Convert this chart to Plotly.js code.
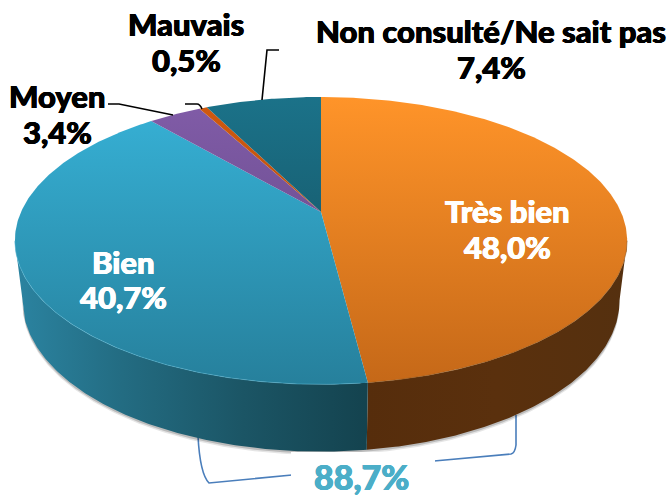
<!DOCTYPE html>
<html><head><meta charset="utf-8">
<script src="https://cdn.plot.ly/plotly-3.0.1.min.js"></script>
<style>html,body{margin:0;padding:0;background:#fff}#c{width:671px;height:497px}</style>
</head><body><div id="c"></div>
<script>
const categories = ["Très bien","Bien","Moyen","Mauvais","Non consulté/Ne sait pas"];
const values = [48.0,40.7,3.4,0.5,7.4];
const valueLabels = ["48,0%","40,7%","3,4%","0,5%","7,4%"];
const totalLabel = "88,7%";
const topColorsBack = ["#FF9429","#37B2D7","#815CA8","#D0590F","#1B7289"];
const topColorsFront = ["#C56818","#26809C","#5E4480","#A84A0C","#134A58"];

// projective view of the disc (tilted pie)
const cx=321, cy=212, A=300, B=138, k=0.1994;
function topPt(t){const u=Math.sin(t),v=Math.cos(t),w=1+k*v;return [cx+A*u/w, cy-B*v/w];}
function botPt(t){const p=topPt(t);return [cx+(p[0]-cx)*0.975, 300+(p[1]-240)*1.05];}
function arc(fn,a,b){const n=Math.max(2,Math.ceil(Math.abs(b-a)/0.01)),o=[];for(let i=0;i<=n;i++)o.push(fn(a+(b-a)*i/n));return o;}
const rad=d=>d*Math.PI/180;
const tR=rad(101.5), tL=rad(258.5);
const total=values.reduce((a,b)=>a+b,0);
let cum=0;const spans=values.map(v=>{const s=[cum/total*2*Math.PI,(cum+v)/total*2*Math.PI];cum+=v;return s;});
const traces=[];
function poly(pts,extra){traces.push(Object.assign({type:'scatter',mode:'lines',x:pts.map(p=>p[0]),y:pts.map(p=>p[1]),fill:'toself',line:{width:0},hoverinfo:'skip',showlegend:false},extra));}
// soft shadow below the wall
[[3.5,'rgba(0,0,0,0.10)'],[2,'rgba(0,0,0,0.18)']].forEach(([d,c])=>{
  const pts=arc(botPt,tR,tL).map(p=>[p[0],p[1]+d]).concat(arc(botPt,tL,tR).map(p=>[p[0],p[1]-6]));
  poly(pts,{fillcolor:c});
});
// side walls
const wall=(a,b,scale,x0,x1)=>poly(arc(topPt,a,b).concat(arc(botPt,b,a)),{fillcolor:'#000',fillgradient:{type:'horizontal',start:x0,stop:x1,colorscale:scale}});
wall(tR,spans[0][1],[[0,'#562D0C'],[0.5,'#5A300D'],[1,'#55300F']],365,626);
wall(spans[0][1],tL,[[0,'#14434F'],[0.35,'#1B5565'],[0.7,'#236C82'],[1,'#2B83A0']],365,18);
// top slices
spans.forEach((s,i)=>{
  const pts=[[cx,cy]].concat(arc(topPt,s[0],s[1])).concat([[cx,cy]]);
  poly(pts,{fillcolor:topColorsBack[i],fillgradient:{type:'vertical',start:97,stop:384,colorscale:[[0,topColorsBack[i]],[1,topColorsFront[i]]]}});
});
// bevel highlight on the front rim
const rim=(a,b,c)=>{const p=arc(topPt,a,b);traces.push({type:'scatter',mode:'lines',x:p.map(q=>q[0]),y:p.map(q=>q[1]),line:{width:1,color:c},hoverinfo:'skip',showlegend:false});};
rim(spans[0][1]+0.02,tL,'rgba(90,185,215,0.5)');
rim(tR,spans[0][1],'rgba(140,85,30,0.5)');

const font=(size,color)=>({family:'Lato, "Open Sans", sans-serif',size:size,color:color,weight:900,
  shadow:'0.45px 0 0 '+color+', -0.45px 0 0 '+color+', 0 0.3px 0 '+color});
const ann=(x,y,text,size,color)=>({x:x,y:y,xref:'x',yref:'y',text:text,showarrow:false,font:font(size,color),align:'center',xanchor:'center',yanchor:'middle'});
const S=31;
const annotations=[
  ann(507,211,categories[0],S,'#fff'), ann(507,247,valueLabels[0],S,'#fff'),
  ann(123,262,categories[1],S,'#fff'), ann(123,297,valueLabels[1],S,'#fff'),
  ann(57,96,categories[2],S,'#000'),   ann(57,132,valueLabels[2],S,'#000'),
  ann(186,24,categories[3],S,'#000'),  ann(186,60,valueLabels[3],S,'#000'),
  ann(491,31,categories[4],S,'#000'),  ann(491,67,valueLabels[4],S,'#000'),
  ann(361,476,totalLabel,34,'#4BAEC8')
];
const leader=d=>({type:'path',path:d,xref:'x',yref:'y',line:{color:'#000',width:1.6},layer:'above'});
const bracket=d=>({type:'path',path:d,xref:'x',yref:'y',line:{color:'#4A7EBB',width:1.6},layer:'below'});
const shapes=[
  bracket('M198,436 C199,455 202,476 209,483 L292,475'),
  bracket('M516,415 L516,445 Q515,453 511,454 L434,461'),
  leader('M108,104 L119,104 L173,115'),
  leader('M185,104 L197,104 Q200,104 202,109'),
  leader('M279,50 L267,50 L262,100'),
  {type:'rect',xref:'x',yref:'y',x0:291,x1:435,y0:452,y1:497,fillcolor:'#fff',line:{width:0},layer:'above'}
];
Plotly.newPlot('c',traces,{
  width:671,height:497,margin:{l:0,r:0,t:0,b:0},
  paper_bgcolor:'#fff',plot_bgcolor:'rgba(0,0,0,0)',showlegend:false,
  xaxis:{range:[0,671],visible:false,fixedrange:true},
  yaxis:{range:[497,0],visible:false,fixedrange:true},
  annotations:annotations,shapes:shapes
},{displayModeBar:false,staticPlot:true});
</script></body></html>
